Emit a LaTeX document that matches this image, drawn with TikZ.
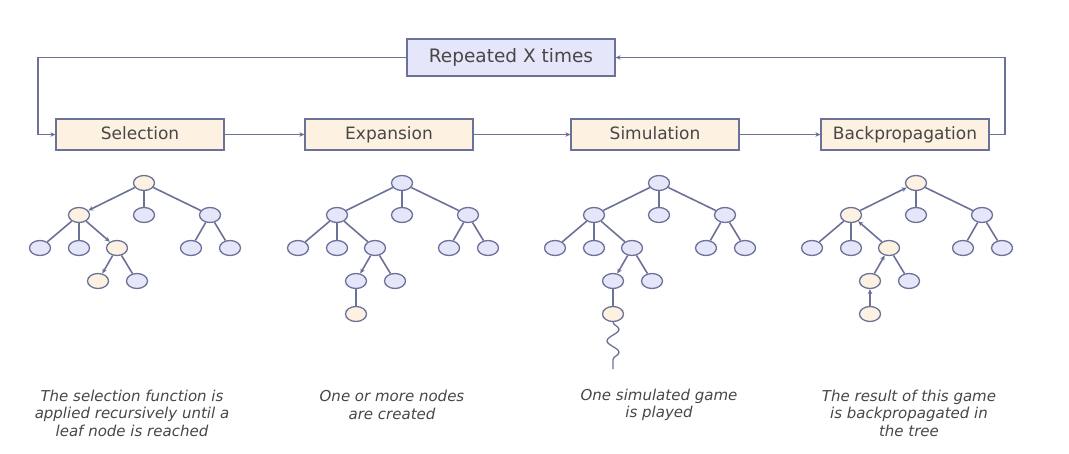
\documentclass[tikz,border=0pt]{standalone}
\usepackage{fontspec}
\setmainfont{DejaVu Sans}
\usetikzlibrary{arrows.meta,shapes.geometric,decorations.pathmorphing}

\definecolor{peach}{RGB}{253,242,226}
\definecolor{lavender}{RGB}{230,230,250}
\definecolor{edgeblue}{RGB}{108,113,152}

\begin{document}
\begin{tikzpicture}[x=1pt,y=-1pt,>={Stealth[length=5pt,width=4.5pt]},semithick,
  phase/.style={draw=edgeblue,fill=peach,line width=1.2pt,minimum width=168pt,minimum height=31pt,text height=12pt,text depth=3pt,font=\fontsize{17}{20}\selectfont,text=black!72},
  repeat/.style={phase,fill=lavender,minimum width=208pt,minimum height=37pt,font=\fontsize{18.5}{21}\selectfont},
  tnode/.style={ellipse,draw=edgeblue,fill=lavender,line width=1.3pt,minimum width=21pt,minimum height=15pt,inner sep=0pt},
  hot/.style={fill=peach},
  link/.style={draw=edgeblue,line width=1.2pt},
  branch/.style={draw=edgeblue,line width=1.6pt},
  caption/.style={align=center,font=\fontsize{15}{17.5}\selectfont\itshape,text=black!72}]
%\tikzstyle{every node}=[draw=black,text=black]

\useasboundingbox (0,0) rectangle (1069,453);

\node[repeat] (rep) at (511,57.5) {Repeated X times};
\node[phase] (sel) at (140,134.5) {Selection};
\node[phase] (exp) at (389,134.5) {Expansion};
\node[phase] (sim) at (655,134.5) {Simulation};
\node[phase] (back) at (905,134.5) {Backpropagation};

\coordinate (lt) at (38,57.5);
\coordinate (rt) at (1005,57.5);

\path[link,->] (rep.west) -- (lt) |- (sel.west);
\path[link,->] (sel) edge (exp);
\path[link,->] (exp) edge (sim);
\path[link,->] (sim) edge (back);
\path[link,->] (back.east) -| (rt) -- (rep.east);

% selection tree
\begin{scope}[xshift=144pt]
\node[tnode,hot] (s0) at (0,183) {};
\node[tnode,hot] (s1) at (-65,215) {};
\node[tnode] (s2) at (0,215) {};
\node[tnode] (s3) at (66,215) {};
\node[tnode] (s4) at (-104,248) {};
\node[tnode] (s5) at (-65,248) {};
\node[tnode,hot] (s6) at (-27,248) {};
\node[tnode] (s7) at (47,248) {};
\node[tnode] (s8) at (86,248) {};
\node[tnode,hot] (s9) at (-46,281) {};
\node[tnode] (s10) at (-7,281) {};
\end{scope}
\path[branch] (s0) edge[->] (s1) edge (s2) edge (s3)
              (s1) edge (s4) edge (s5) edge[->] (s6)
              (s3) edge (s7) edge (s8)
              (s6) edge[->] (s9) edge (s10);

% expansion tree
\begin{scope}[xshift=402pt]
\node[tnode] (e0) at (0,183) {};
\node[tnode] (e1) at (-65,215) {};
\node[tnode] (e2) at (0,215) {};
\node[tnode] (e3) at (66,215) {};
\node[tnode] (e4) at (-104,248) {};
\node[tnode] (e5) at (-65,248) {};
\node[tnode] (e6) at (-27,248) {};
\node[tnode] (e7) at (47,248) {};
\node[tnode] (e8) at (86,248) {};
\node[tnode] (e9) at (-46,281) {};
\node[tnode] (e10) at (-7,281) {};
\node[tnode,hot] (e11) at (-46,314) {};
\end{scope}
\path[branch] (e0) edge (e1) edge (e2) edge (e3)
              (e1) edge (e4) edge (e5) edge (e6)
              (e3) edge (e7) edge (e8)
              (e6) edge[->] (e9) edge (e10)
              (e9) edge (e11);

% simulation tree
\begin{scope}[xshift=659pt]
\node[tnode] (m0) at (0,183) {};
\node[tnode] (m1) at (-65,215) {};
\node[tnode] (m2) at (0,215) {};
\node[tnode] (m3) at (66,215) {};
\node[tnode] (m4) at (-104,248) {};
\node[tnode] (m5) at (-65,248) {};
\node[tnode] (m6) at (-27,248) {};
\node[tnode] (m7) at (47,248) {};
\node[tnode] (m8) at (86,248) {};
\node[tnode] (m9) at (-46,281) {};
\node[tnode] (m10) at (-7,281) {};
\node[tnode,hot] (m11) at (-46,314) {};
\coordinate (end) at (-46,369);
\end{scope}
\path[branch] (m0) edge (m1) edge (m2) edge (m3)
              (m1) edge (m4) edge (m5) edge (m6)
              (m3) edge (m7) edge (m8)
              (m6) edge[->] (m9) edge (m10)
              (m9) edge (m11);
\draw[edgeblue,line width=1.3pt,decorate,decoration={snake,amplitude=6pt,segment length=23pt}] (m11) -- (end);

% backpropagation tree
\begin{scope}[xshift=916pt]
\node[tnode,hot] (b0) at (0,183) {};
\node[tnode,hot] (b1) at (-65,215) {};
\node[tnode] (b2) at (0,215) {};
\node[tnode] (b3) at (66,215) {};
\node[tnode] (b4) at (-104,248) {};
\node[tnode] (b5) at (-65,248) {};
\node[tnode,hot] (b6) at (-27,248) {};
\node[tnode] (b7) at (47,248) {};
\node[tnode] (b8) at (86,248) {};
\node[tnode,hot] (b9) at (-46,281) {};
\node[tnode] (b10) at (-7,281) {};
\node[tnode,hot] (b11) at (-46,314) {};
\end{scope}
\path[branch] (b0) edge[<-] (b1) edge (b2) edge (b3)
              (b1) edge (b4) edge (b5) edge[<-] (b6)
              (b3) edge (b7) edge (b8)
              (b6) edge[<-] (b9) edge (b10)
              (b9) edge[<-] (b11);

\node[caption] (c1) at (132,413) {The selection function is\\applied recursively until a\\leaf node is reached};
\node[caption] (c2) at (392,405) {One or more nodes\\are created};
\node[caption] (c3) at (659,405) {One simulated game\\is played};
\node[caption] (c4) at (909,413) {The result of this game\\is backpropagated in\\the tree};
\end{tikzpicture}
\end{document}
